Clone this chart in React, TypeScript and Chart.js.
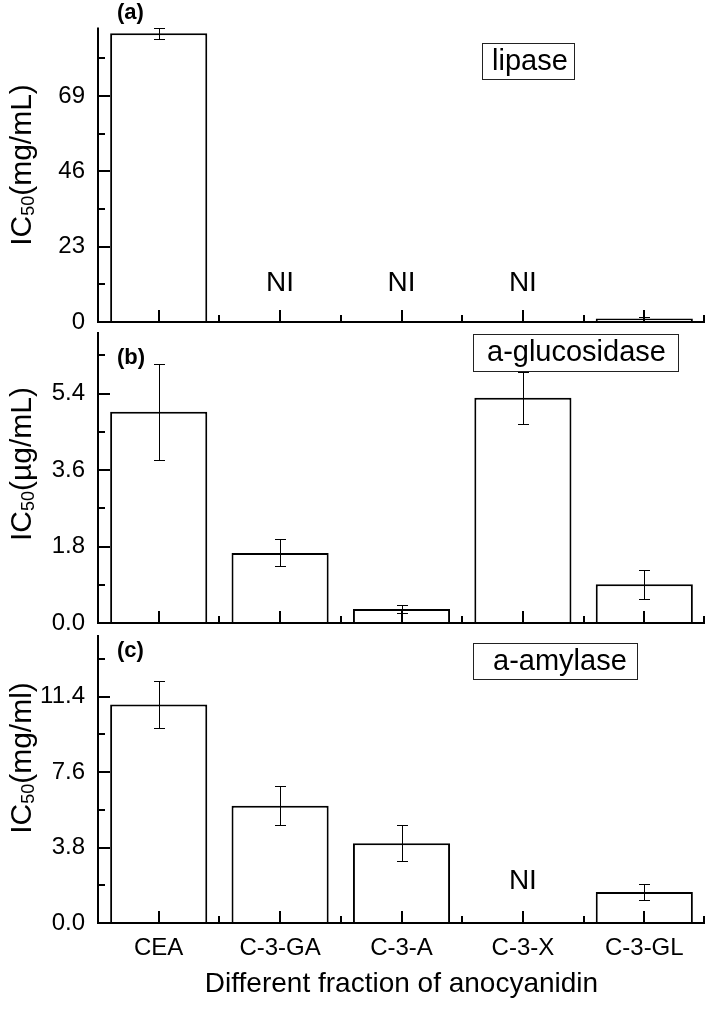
import React, { useEffect, useRef } from "react";
import { Chart, registerables } from "chart.js";

Chart.register(...registerables);

const FONT = "'Liberation Sans', Arial, Helvetica, sans-serif";

const categories = ["CEA", "C-3-GA", "C-3-A", "C-3-X", "C-3-GL"];

const lipaseValues = [88.2, null, null, null, 1.1];
const lipaseErrors = [1.7, 0, 0, 0, 0.3];
const lipaseTickValues = [0, 23, 46, 69];
const lipaseTickLabels = ["0", "23", "46", "69"];

const glucosidaseValues = [4.97, 1.65, 0.33, 5.3, 0.91];
const glucosidaseErrors = [1.13, 0.32, 0.1, 0.61, 0.34];
const glucosidaseTickValues = [0, 1.8, 3.6, 5.4];
const glucosidaseTickLabels = ["0.0", "1.8", "3.6", "5.4"];

const amylaseValues = [11.0, 5.9, 4.02, null, 1.56];
const amylaseErrors = [1.19, 0.98, 0.9, 0, 0.4];
const amylaseTickValues = [0, 3.8, 7.6, 11.4];
const amylaseTickLabels = ["0.0", "3.8", "7.6", "11.4"];

const xTitle = "Different fraction of anocyanidin";

const W = 709;
const H = 1011;

const panels = [
  {
    values: lipaseValues, errors: lipaseErrors, tickValues: lipaseTickValues, tickLabels: lipaseTickLabels,
    max: 90, step: 11.5, top: 25, bottom: 322, showX: false,
    tag: "(a)", tagY: 13,
    box: { x: 482, y: 43, w: 92, h: 36, text: "lipase", tx: 492, ty: 62 },
    unit: "(mg/mL)", titleY: 165, niOffset: 39,
  },
  {
    values: glucosidaseValues, errors: glucosidaseErrors, tickValues: glucosidaseTickValues, tickLabels: glucosidaseTickLabels,
    max: 6.85, step: 0.9, top: 332, bottom: 623, showX: false,
    tag: "(b)", tagY: 358,
    box: { x: 473, y: 334, w: 205, h: 37, text: "a-glucosidase", tx: 487, ty: 353 },
    unit: "(\u00b5g/mL)", titleY: 464, niOffset: 39,
  },
  {
    values: amylaseValues, errors: amylaseErrors, tickValues: amylaseTickValues, tickLabels: amylaseTickLabels,
    max: 14.5, step: 1.9, top: 635, bottom: 923, showX: true,
    tag: "(c)", tagY: 651,
    box: { x: 473, y: 643, w: 164, h: 36, text: "a-amylase", tx: 493, ty: 662 },
    unit: "(mg/ml)", titleY: 758, niOffset: 42,
  },
];

function seg(ctx: CanvasRenderingContext2D, x1: number, y1: number, x2: number, y2: number) {
  ctx.beginPath();
  ctx.moveTo(x1, y1);
  ctx.lineTo(x2, y2);
  ctx.stroke();
}

const decorPlugin = {
  id: "decor",
  afterDatasetsDraw(chart: any, _args: any, opts: any) {
    const ctx: CanvasRenderingContext2D = chart.ctx;
    const { left, right, top, bottom } = chart.chartArea;
    const xs = chart.scales.x;
    const ys = chart.scales.y;
    const vals = chart.data.datasets[0].data;
    ctx.save();
    ctx.strokeStyle = "#000";
    ctx.fillStyle = "#000";

    // error bars
    ctx.lineWidth = 1;
    opts.errors.forEach((e: number, i: number) => {
      const v = vals[i];
      if (v == null || !e) return;
      const px = Math.round(xs.getPixelForValue(i)) + 0.5;
      const y1 = Math.round(ys.getPixelForValue(v + e)) + 0.5;
      const y2 = Math.round(ys.getPixelForValue(v - e)) + 0.5;
      seg(ctx, px, y1, px, y2);
      seg(ctx, px - 5.5, y1, px + 5.5, y1);
      seg(ctx, px - 5.5, y2, px + 5.5, y2);
    });

    // axes
    ctx.lineWidth = 2;
    seg(ctx, left, top, left, bottom + 1);
    seg(ctx, left - 1, bottom, right, bottom);
    // y ticks (inward)
    ys.ticks.forEach((t: any) => {
      const py = Math.round(ys.getPixelForValue(t.value));
      const major = t.label !== "" && t.label != null;
      seg(ctx, left, py, left + (major ? 12 : 7), py);
    });
    // x ticks (inward)
    for (let i = 0; i < categories.length; i++) {
      const c = Math.round(xs.getPixelForValue(i));
      seg(ctx, c, bottom, c, bottom - 12);
      const b = Math.round(xs.getPixelForValue(i + 0.5));
      seg(ctx, Math.min(b, right - 1), bottom, Math.min(b, right - 1), bottom - 7);
    }

    // NI labels
    ctx.font = `28px ${FONT}`;
    ctx.textAlign = "center";
    ctx.textBaseline = "middle";
    vals.forEach((v: any, i: number) => {
      if (v == null) {
        ctx.fillText("NI", xs.getPixelForValue(i), bottom - opts.niOffset);
      }
    });

    // panel tag
    ctx.font = `bold 22px ${FONT}`;
    ctx.textAlign = "left";
    ctx.fillText(opts.tag, 117, opts.tagY);

    // enzyme box
    const bx = opts.box;
    ctx.lineWidth = 1;
    ctx.strokeStyle = "#222";
    ctx.strokeRect(bx.x + 0.5, bx.y + 0.5, bx.w, bx.h);
    ctx.font = `29px ${FONT}`;
    ctx.textAlign = "left";
    ctx.fillText(bx.text, bx.tx, bx.ty);

    // rotated y title with subscript
    const parts = [
      { text: "IC", size: 30, shift: 0 },
      { text: "50", size: 18, shift: 3 },
      { text: opts.unit, size: 30, shift: 0 },
    ];
    let total = 0;
    const widths = parts.map((p) => {
      ctx.font = `${p.size}px ${FONT}`;
      const w = ctx.measureText(p.text).width;
      total += w;
      return w;
    });
    ctx.translate(31, opts.titleY);
    ctx.rotate(-Math.PI / 2);
    ctx.textBaseline = "alphabetic";
    let pos = -total / 2;
    parts.forEach((p, i) => {
      ctx.font = `${p.size}px ${FONT}`;
      ctx.fillText(p.text, pos, p.shift);
      pos += widths[i];
    });
    ctx.restore();
  },
};

function makeConfig(p: any): any {
  return {
    type: "bar",
    data: {
      labels: categories,
      datasets: [
        {
          data: p.values,
          backgroundColor: "#ffffff",
          borderColor: "#000000",
          borderWidth: 2,
          borderSkipped: "start",
          barPercentage: 0.8,
          categoryPercentage: 1,
        },
      ],
    },
    options: {
      responsive: false,
      animation: false,
      devicePixelRatio: 1,
      events: [],
      layout: {
        padding: { top: p.top, bottom: p.showX ? 0 : H - p.bottom, left: 0, right: 4 },
      },
      plugins: {
        legend: { display: false },
        tooltip: { enabled: false },
        decor: {
          errors: p.errors, tag: p.tag, tagY: p.tagY, box: p.box,
          unit: p.unit, titleY: p.titleY, niOffset: p.niOffset,
        },
      },
      scales: {
        x: {
          display: p.showX,
          grid: { display: false, drawTicks: false },
          border: { display: false },
          ticks: { font: { family: FONT, size: 24 }, color: "#000", padding: 11, maxRotation: 0, autoSkip: false },
          title: {
            display: p.showX,
            text: xTitle,
            color: "#000",
            font: { family: FONT, size: 28 },
            padding: { top: 0, bottom: 10 },
          },
          afterFit: (s: any) => {
            s.height = p.showX ? H - p.bottom : 0;
          },
        },
        y: {
          min: 0,
          max: p.max,
          grid: { display: false, drawTicks: false },
          border: { display: false },
          ticks: {
            stepSize: p.step,
            includeBounds: false,
            autoSkip: false,
            color: "#000",
            font: { family: FONT, size: 24 },
            padding: 13,
            callback: (v: number) => {
              const idx = p.tickValues.findIndex((t: number) => Math.abs(t - v) < 1e-6);
              return idx >= 0 ? p.tickLabels[idx] : "";
            },
          },
          afterFit: (s: any) => {
            s.width = 98;
          },
        },
      },
    },
    plugins: [decorPlugin],
  };
}

export default function App() {
  const refs = [useRef<HTMLCanvasElement>(null), useRef<HTMLCanvasElement>(null), useRef<HTMLCanvasElement>(null)];

  useEffect(() => {
    const charts = panels.map((p, i) => new Chart(refs[i].current as HTMLCanvasElement, makeConfig(p)));
    return () => charts.forEach((c) => c.destroy());
  }, []);

  return (
    <div style={{ position: "absolute", left: 0, top: 0, width: W, height: H, background: "#fff", overflow: "hidden" }}>
      {refs.map((r, i) => (
        <canvas
          key={i}
          ref={r}
          width={W}
          height={H}
          style={{ position: "absolute", left: 0, top: 0, width: W, height: H }}
        />
      ))}
    </div>
  );
}
